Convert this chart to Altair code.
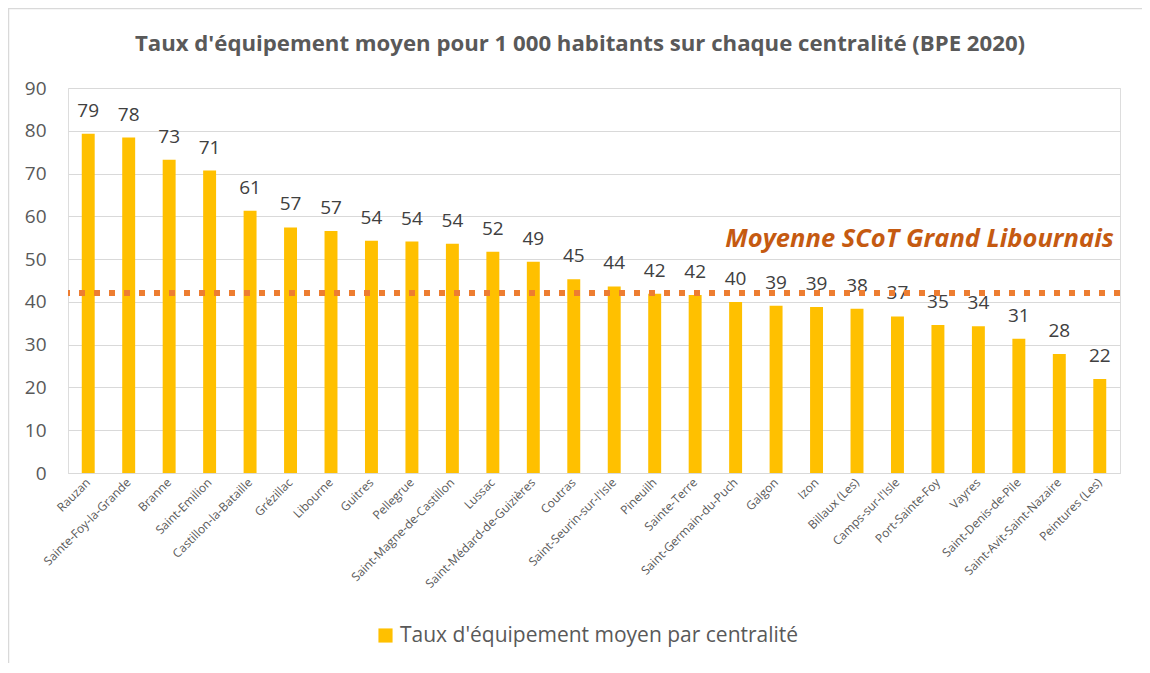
import altair as alt
import pandas as pd

communes = ["Rauzan", "Sainte-Foy-la-Grande", "Branne", "Saint-Emilion", "Castillon-la-Bataille",
            "Grézillac", "Libourne", "Guitres", "Pellegrue", "Saint-Magne-de-Castillon", "Lussac",
            "Saint-Médard-de-Guizières", "Coutras", "Saint-Seurin-sur-l'Isle", "Pineuilh",
            "Sainte-Terre", "Saint-Germain-du-Puch", "Galgon", "Izon", "Billaux (Les)",
            "Camps-sur-l'Isle", "Port-Sainte-Foy", "Vayres", "Saint-Denis-de-Pile",
            "Saint-Avit-Saint-Nazaire", "Peintures (Les)"]
taux = [79.3, 78.4, 73.2, 70.7, 61.3, 57.4, 56.6, 54.3, 54.1, 53.6, 51.7, 49.4, 45.3, 43.6,
        41.9, 41.6, 40.0, 39.1, 38.8, 38.4, 36.6, 34.6, 34.3, 31.4, 27.8, 22.0]
serie = "Taux d'équipement moyen par centralité"
moyenne = 42.1
moyenne_label = "Moyenne SCoT Grand Libournais"
titre = "Taux d'équipement moyen pour 1 000 habitants sur chaque centralité (BPE 2020)"

df = pd.DataFrame({"commune": communes, "taux": taux, "serie": serie})
df_moy = pd.DataFrame({"y": [moyenne]})
df_lab = pd.DataFrame({"commune": [communes[-1]], "y": [54.6], "t": [moyenne_label]})

FONT = "Open Sans"
W, H = 1052, 385

x_enc = alt.X("commune:N", sort=communes, title=None,
              scale=alt.Scale(paddingInner=0.68, paddingOuter=0.34),
              axis=alt.Axis(labelAngle=-45, labelAlign="right", labelBaseline="middle",
                            labelFontSize=12, labelColor="#595959", labelFont=FONT,
                            labelPadding=7, ticks=False, domainColor="#D9D9D9",
                            labelOverlap=False, grid=False))
y_enc = alt.Y("taux:Q", title=None,
              scale=alt.Scale(domain=[0, 90], nice=False),
              axis=alt.Axis(values=list(range(0, 91, 10)), labelFontSize=19, labelColor="#595959",
                            labelFont=FONT, domain=False, ticks=False, gridColor="#D9D9D9",
                            labelPadding=22))

frame_left = alt.Chart(df_moy).mark_rule(color="#D9D9D9", strokeWidth=1.5).encode(
    x=alt.value(-59.5), y=alt.value(-80), y2=alt.value(H + 190))
frame_top = alt.Chart(df_moy).mark_rule(color="#D9D9D9", strokeWidth=1.5).encode(
    x=alt.value(-60), x2=alt.value(W + 22), y=alt.value(-79.5))

bars = alt.Chart(df).mark_bar(color="#FFC000").encode(
    x=x_enc, y=y_enc,
    color=alt.Color("serie:N", scale=alt.Scale(range=["#FFC000"]),
                    legend=alt.Legend(title=None, orient="none", legendX=307, legendY=537,
                                      symbolType="square", symbolSize=200, symbolStrokeWidth=0,
                                      labelFontSize=21, labelColor="#595959", labelFont=FONT,
                                      labelLimit=700))
)

labels = alt.Chart(df).mark_text(fontSize=19, color="#404040", font=FONT, baseline="alphabetic",
                                 dy=-17).encode(
    x=alt.X("commune:N", sort=communes),
    y="taux:Q",
    text=alt.Text("taux:Q", format=".0f"),
)

rule = alt.Chart(df_moy).mark_rule(color="#ED7D31", strokeWidth=6, strokeDash=[6, 9],
                                   strokeCap="butt").encode(y="y:Q")

annot = alt.Chart(df_lab).mark_text(fontSize=25.5, fontWeight="bold", fontStyle="italic",
                                    color="#C55A11", font=FONT, align="right",
                                    baseline="middle", dx=14).encode(
    x=alt.X("commune:N", sort=communes), y="y:Q", text="t:N")

chart = alt.layer(frame_left, frame_top, bars, labels, annot, rule).properties(
    width=W, height=H,
    title=alt.TitleParams(titre, fontSize=22.2, fontWeight="bold", color="#595959", font=FONT,
                          anchor="middle", offset=-66, dx=-14, baseline="alphabetic"),
    autosize=alt.AutoSizeParams(type="none"),
    padding={"left": 60, "top": 80, "right": 22, "bottom": 190},
).configure_view(stroke="transparent", strokeWidth=0).configure(background="white")

chart.save("out.html", embed_options={"renderer": "svg", "actions": False})
